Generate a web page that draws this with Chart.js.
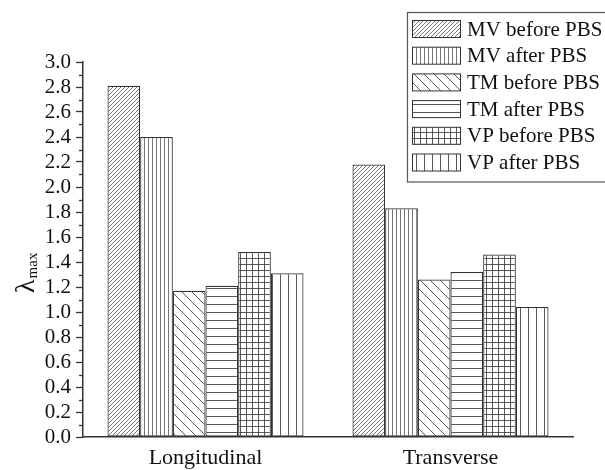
<!DOCTYPE html>
<html>
<head>
<meta charset="utf-8">
<script src="https://cdn.jsdelivr.net/npm/chart.js@4.4.1/dist/chart.umd.min.js"></script>
<style>
  html, body { margin: 0; padding: 0; background: #fff; }
  #wrap { width: 605px; height: 470px; }
</style>
</head>
<body>
<div id="wrap"><canvas id="chart" width="605" height="470"></canvas></div>
<script>
const categories = ['Longitudinal', 'Transverse'];
const seriesNames = ['MV before PBS', 'MV after PBS', 'TM before PBS', 'TM after PBS', 'VP before PBS', 'VP after PBS'];
const mvBefore = [2.81, 2.18];
const mvAfter = [2.40, 1.83];
const tmBefore = [1.17, 1.26];
const tmAfter = [1.21, 1.32];
const vpBefore = [1.48, 1.46];
const vpAfter = [1.31, 1.04];
const yMin = 0, yMax = 3.0, yStep = 0.2;

const serif = "'Liberation Serif', 'Times New Roman', serif";

// small tiles used as bar fills
function hatch(kind) {
    const c = document.createElement('canvas');
    const sizes = { diagUp: 4, vertDense: 4, diagDown: 10, horiz: 8, grid: 6, vertSparse: 8 };
    const s = sizes[kind];
    c.width = s; c.height = s;
    const g = c.getContext('2d');
    g.fillStyle = '#fff';
    g.fillRect(0, 0, s, s);
    g.strokeStyle = kind === 'diagUp' || kind === 'vertDense' ? '#666' : '#444';
    g.lineWidth = 0.9;
    g.beginPath();
    if (kind === 'diagUp') {
        g.moveTo(0, s); g.lineTo(s, 0);
        g.moveTo(-1, 1); g.lineTo(1, -1);
        g.moveTo(s - 1, s + 1); g.lineTo(s + 1, s - 1);
    } else if (kind === 'diagDown') {
        g.moveTo(0, 0); g.lineTo(s, s);
        g.moveTo(-1, s - 1); g.lineTo(1, s + 1);
        g.moveTo(s - 1, -1); g.lineTo(s + 1, 1);
    } else if (kind === 'vertDense' || kind === 'vertSparse') {
        g.moveTo(0.5, 0); g.lineTo(0.5, s);
    } else if (kind === 'horiz') {
        g.moveTo(0, 0.5); g.lineTo(s, 0.5);
    } else if (kind === 'grid') {
        g.moveTo(0.5, 0); g.lineTo(0.5, s);
        g.moveTo(0, 0.5); g.lineTo(s, 0.5);
    }
    g.stroke();
    return g.createPattern(c, 'repeat');
}

const fills = ['diagUp', 'vertDense', 'diagDown', 'horiz', 'grid', 'vertSparse'].map(hatch);
const seriesValues = [mvBefore, mvAfter, tmBefore, tmAfter, vpBefore, vpAfter];

const datasets = seriesValues.map((vals, i) => ({
    label: seriesNames[i],
    data: vals,
    backgroundColor: fills[i],
    borderColor: '#333',
    borderWidth: 1.2,
    borderSkipped: false,
    categoryPercentage: 0.8,
    barPercentage: 1.0
}));

const decor = {
    id: 'decor',
    afterDraw(chart) {
        const ctx = chart.ctx;
        const y = chart.scales.y;
        const left = chart.chartArea.left;
        ctx.save();
        // minor ticks
        ctx.strokeStyle = '#333';
        ctx.lineWidth = 1.3;
        for (let i = 0; i < 15; i++) {
            const v = (2 * i + 1) / 10;
            const py = Math.round(y.getPixelForValue(v)) + 0.5;
            ctx.beginPath();
            ctx.moveTo(left - 4, py);
            ctx.lineTo(left, py);
            ctx.stroke();
        }
        // y title: lambda with subscript
        ctx.fillStyle = '#111';
        ctx.translate(34, 293);
        ctx.rotate(-Math.PI / 2);
        ctx.textBaseline = 'alphabetic';
        ctx.textAlign = 'left';
        ctx.font = '28px ' + serif;
        ctx.fillText('λ', 0, 0);
        const w = ctx.measureText('λ').width;
        ctx.font = '15px ' + serif;
        ctx.fillText('max', w + 1, 3);
        ctx.restore();

        // legend
        ctx.save();
        ctx.fillStyle = '#fff';
        ctx.fillRect(407, 12, 200, 170);
        ctx.strokeStyle = '#555';
        ctx.lineWidth = 1.2;
        ctx.strokeRect(407.5, 12.5, 210, 169.5);
        chart.data.datasets.forEach((ds, i) => {
            const top = 20 + i * 26.7;
            ctx.fillStyle = ds.backgroundColor;
            ctx.fillRect(412.5, top + 0.5, 48, 17);
            ctx.strokeStyle = '#333';
            ctx.lineWidth = 1;
            ctx.strokeRect(412.5, top + 0.5, 48, 17);
            ctx.fillStyle = '#111';
            ctx.font = '21px ' + serif;
            ctx.textBaseline = 'middle';
            ctx.fillText(ds.label, 467, top + 10);
        });
        ctx.restore();
    }
};

new Chart(document.getElementById('chart'), {
    type: 'bar',
    data: { labels: categories, datasets: datasets },
    options: {
        responsive: false,
        animation: false,
        layout: { padding: { top: 62, right: 32, left: 0, bottom: 0 } },
        plugins: { legend: { display: false }, tooltip: { enabled: false } },
        scales: {
            x: {
                grid: { drawOnChartArea: false, drawTicks: false },
                border: { color: '#333', width: 1.5 },
                ticks: { color: '#111', font: { family: serif, size: 22 }, padding: 8 },
                afterFit(scale) { scale.height = 33; }
            },
            y: {
                min: yMin,
                max: yMax,
                grid: { drawOnChartArea: false, drawTicks: true, tickLength: 7, tickColor: '#333', tickWidth: 1.3 },
                border: { color: '#333', width: 1.5 },
                ticks: {
                    stepSize: yStep,
                    autoSkip: false,
                    color: '#111',
                    font: { family: serif, size: 21 },
                    padding: 5,
                    callback: v => Number(v).toFixed(1)
                },
                afterFit(scale) { scale.width = 83; }
            }
        }
    },
    plugins: [decor]
});
</script>
</body>
</html>
